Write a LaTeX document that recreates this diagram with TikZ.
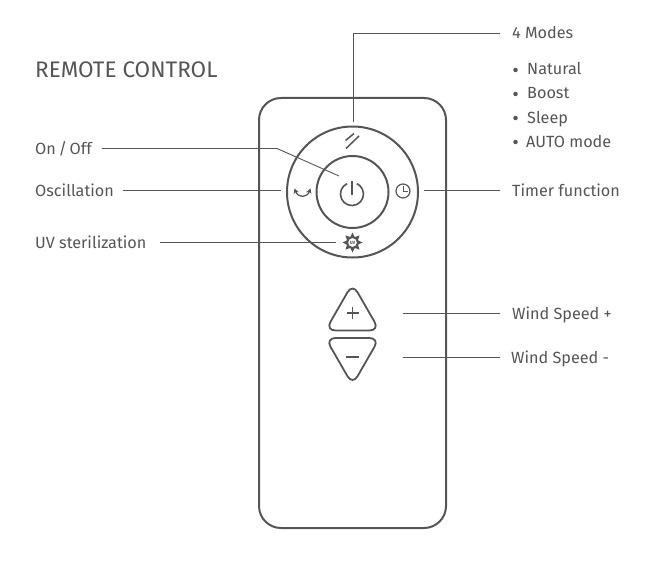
\documentclass[tikz,border=0pt]{standalone}
\usepackage{fontspec}
\setmainfont{Fira Sans}
\usetikzlibrary{shapes.geometric,arrows.meta}
\definecolor{inkgray}{HTML}{555555}
\tikzset{
  outline/.style={draw=inkgray,line width=2pt},
  icon/.style={draw=inkgray,line width=1.2pt},
  leader/.style={draw=inkgray,line width=0.9pt},
  lbl/.style={anchor=west,inner sep=0pt,text=inkgray,font=\fontsize{16.2}{18}\selectfont,text height=14pt,text depth=3pt},
  dot/.style={circle,fill=inkgray,inner sep=0pt,minimum size=4.5pt},
}
\begin{document}
\begin{tikzpicture}[x=1pt,y=-1pt]
\useasboundingbox (0,0) rectangle (668,583);

\node[outline,rounded corners=22pt,minimum width=187pt,minimum height=430pt] (remote) at (352.5,313) {};
\node[outline,circle,inner sep=0pt,minimum size=131pt] (ring) at (352.5,192) {};
\node[outline,circle,inner sep=0pt,minimum size=72pt] (powerbtn) at (352.5,192) {};

\node[anchor=west,inner sep=0pt,text=inkgray,font=\fontsize{22.5}{26}\selectfont] (title) at (35,70) {REMOTE CONTROL};

\node[lbl] (onoff) at (35,148.5) {On\,/\,Off};
\node[lbl] (oscillation) at (35,190.5) {Oscillation};
\node[lbl] (uvlabel) at (35,242.5) {UV sterilization};
\node[lbl] (modes) at (512,33.5) {4 Modes};
\node[lbl] (natural) at (527,69.5) {Natural};
\node[lbl] (boost) at (527,93.5) {Boost};
\node[lbl] (sleep) at (527,117.5) {Sleep};
\node[lbl] (auto) at (526,141.5) {AUTO mode};
\node[lbl] (timer) at (512,190.5) {Timer function};
\node[lbl] (speedup) at (512,313.5) {Wind Speed +};
\node[lbl] (speeddown) at (511,357.5) {Wind Speed -};

\node[dot] (dota) at (515.5,70) {};
\node[dot] (dotb) at (515.5,94) {};
\node[dot] (dotc) at (515.5,118) {};
\node[dot] (dotd) at (515.5,142) {};

\coordinate (modesend) at (353.5,122);
\coordinate (modesbend) at (353.5,33.5);
\coordinate (onoffbend) at (277,148.5);
\coordinate (onoffend) at (339,176);
\coordinate (oscend) at (281,190.5);
\coordinate (uvend) at (336,242.5);
\coordinate (timerend) at (424,190.5);
\coordinate (upend) at (403,313.5);
\coordinate (downend) at (403,357.5);

\path[leader,shorten >=12pt] (modesend) -- (modesbend) -- (modes);
\path[leader,shorten <=10pt] (onoff) -- (onoffbend) -- (onoffend);
\path[leader,shorten <=9pt] (oscillation) -- (oscend);
\path[leader,shorten <=13pt] (uvlabel) -- (uvend);
\path[leader,shorten <=12pt] (timer) -- (timerend);
\path[leader,shorten <=12pt] (speedup) -- (upend);
\path[leader,shorten <=11pt] (speeddown) -- (downend);

\draw[outline,line width=1.8pt,rounded corners=10pt] (352.5,283.5) -- (325.5,330.5) -- (379.5,330.5) -- cycle;
\draw[outline,line width=1.8pt,rounded corners=10pt] (352.5,385) -- (325.5,338) -- (379.5,338) -- cycle;
\draw[icon,line width=1.4pt] (346.5,313) -- (358.5,313);
\draw[icon,line width=1.4pt] (352.5,307) -- (352.5,319);
\draw[inkgray,line width=2.6pt] (346,357) -- (359,357);

\draw[icon,line width=1.6pt] (347.1,183.6) arc[start angle=-115,end angle=-425,radius=11.5];
\draw[icon,line width=1.6pt] (352,181) -- (352,195);

\node[icon,circle,inner sep=0pt,minimum size=14pt] (clock) at (403,191) {};
\draw[icon,line width=0.9pt] (403,186) -- (clock.center) -- (408,191);

\draw[icon,line width=1.3pt,{Stealth[length=5pt,width=5.5pt]}-{Stealth[length=5pt,width=5.5pt]}] (294.5,188.5) .. controls (298,198) and (307,198) .. (310.5,188.5);

\draw[icon,line width=1.5pt] (345.5,140.5) -- (354,133.5);
\draw[icon,line width=1.5pt] (346,148.5) -- (359,136);

\node[star,star points=8,star point ratio=1.7,fill=inkgray,inner sep=0pt,minimum size=20pt] (sun) at (352.5,242.5) {};
\node[circle,fill=white,draw=inkgray,line width=1pt,inner sep=0pt,minimum size=10pt,text=inkgray,font=\fontsize{4.5}{5}\selectfont\bfseries] (uvmark) at (352.5,242.5) {UV};
\end{tikzpicture}
\end{document}
